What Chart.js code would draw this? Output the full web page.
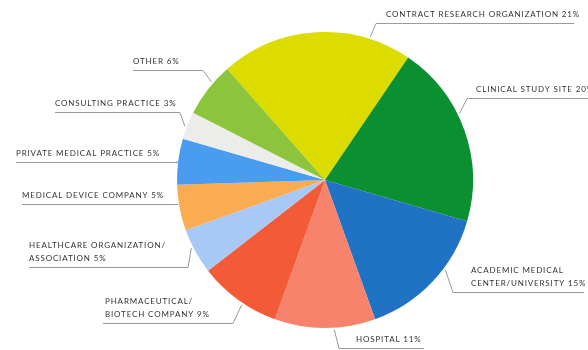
<!DOCTYPE html>
<html>
<head>
<meta charset="utf-8">
<script src="https://cdn.jsdelivr.net/npm/chart.js@4.4.1/dist/chart.umd.min.js"></script>
<style>
  html, body { margin: 0; padding: 0; background: #fff; }
  #wrap { width: 588px; height: 350px; }
</style>
</head>
<body>
<div id="wrap"><canvas id="pie-chart"></canvas></div>
<script>
// ------------------------------------------------------
// @Data
// ------------------------------------------------------
const categories = [
  ['CONTRACT RESEARCH ORGANIZATION 21%'],
  ['CLINICAL STUDY SITE 20%'],
  ['ACADEMIC MEDICAL', 'CENTER/UNIVERSITY 15%'],
  ['HOSPITAL 11%'],
  ['PHARMACEUTICAL/', 'BIOTECH COMPANY 9%'],
  ['HEALTHCARE ORGANIZATION/', 'ASSOCIATION 5%'],
  ['MEDICAL DEVICE COMPANY 5%'],
  ['PRIVATE MEDICAL PRACTICE 5%'],
  ['CONSULTING PRACTICE 3%'],
  ['OTHER 6%'],
];
const shares = [21, 20, 15, 11, 9, 5, 5, 5, 3, 6];
const sliceColors = [
  '#dcdc00', '#0a9030', '#1f72c4', '#f7836d', '#f25a38',
  '#a8c8f5', '#fbab50', '#4a9cf0', '#ececea', '#8cc43c',
];

// label layout: underline y, underline from x1 to x2, text left x,
// where along the slice the leader touches (0..1)
const labelLayout = [
  { side: 'r', y: 23,  x1: 376, x2: 574, tx: 386, at: 0.78 },
  { side: 'r', y: 98,  x1: 467, x2: 588, tx: 476, at: 0.41 },
  { side: 'r', y: 292, x1: 453, x2: 584, tx: 471, at: 0.38 },
  { side: 'r', y: 348, x1: 339, x2: 424, tx: 356, at: 0.41 },
  { side: 'l', y: 323, x1: 103, x2: 233, tx: 105, at: 0.43 },
  { side: 'l', y: 267, x1: 29,  x2: 188, tx: 29,  at: 0.60 },
  { side: 'l', y: 204, x1: 22,  x2: 178, tx: 22,  at: 0.58 },
  { side: 'l', y: 162, x1: 16,  x2: 178, tx: 16,  at: 0.49 },
  { side: 'l', y: 112, x1: 55,  x2: 180, tx: 55,  at: 0.44 },
  { side: 'l', y: 70,  x1: 133, x2: 203, tx: 133, at: 0.64 },
];

// ------------------------------------------------------
// @Leader labels
// ------------------------------------------------------
const leaderLabels = {
  id: 'leaderLabels',
  afterDraw(chart) {
    const ctx = chart.ctx;
    const arcs = chart.getDatasetMeta(0).data;
    ctx.save();
    ctx.font = '8px Lato';
    ctx.letterSpacing = '0.85px';
    ctx.textBaseline = 'alphabetic';
    ctx.textAlign = 'left';

    arcs.forEach((arc, i) => {
      const lay = labelLayout[i];
      const p = arc.getProps(['x', 'y', 'startAngle', 'endAngle', 'outerRadius'], true);
      const a = p.startAngle + lay.at * (p.endAngle - p.startAngle);
      const r = p.outerRadius + 2;
      const ex = p.x + Math.cos(a) * r;
      const ey = p.y + Math.sin(a) * r;
      const sx = lay.side === 'r' ? lay.x1 : lay.x2;

      ctx.strokeStyle = '#9a9a9a';
      ctx.lineWidth = 1;
      ctx.beginPath();
      ctx.moveTo(ex, ey);
      ctx.lineTo(sx, lay.y + 0.5);
      ctx.moveTo(lay.x1, lay.y + 0.5);
      ctx.lineTo(lay.x2, lay.y + 0.5);
      ctx.stroke();

      const lines = categories[i];
      ctx.fillStyle = '#333333';
      lines.forEach((line, k) => {
        const by = lay.y - 6 - (lines.length - 1 - k) * 13;
        ctx.fillText(line, lay.tx, by);
      });
    });
    ctx.restore();
  },
};

// ------------------------------------------------------
// @Pie Chart
// ------------------------------------------------------
const pieChartBox = document.getElementById('pie-chart');

if (pieChartBox) {
  const pieCtx = pieChartBox.getContext('2d');

  new Chart(pieCtx, {
    type: 'pie',
    data: {
      labels: categories.map(l => l.join(' ')),
      datasets: [{
        data            : shares,
        backgroundColor : sliceColors,
        borderWidth     : 0,
      }],
    },
    options: {
      responsive: true,
      maintainAspectRatio: false,
      animation: false,
      rotation: -41.4,
      layout: {
        padding: { left: 177, right: 115, top: 32, bottom: 22 },
      },
      plugins: {
        legend: { display: false },
        tooltip: { enabled: false },
      },
    },
    plugins: [leaderLabels],
  });
}
</script>
</body>
</html>
